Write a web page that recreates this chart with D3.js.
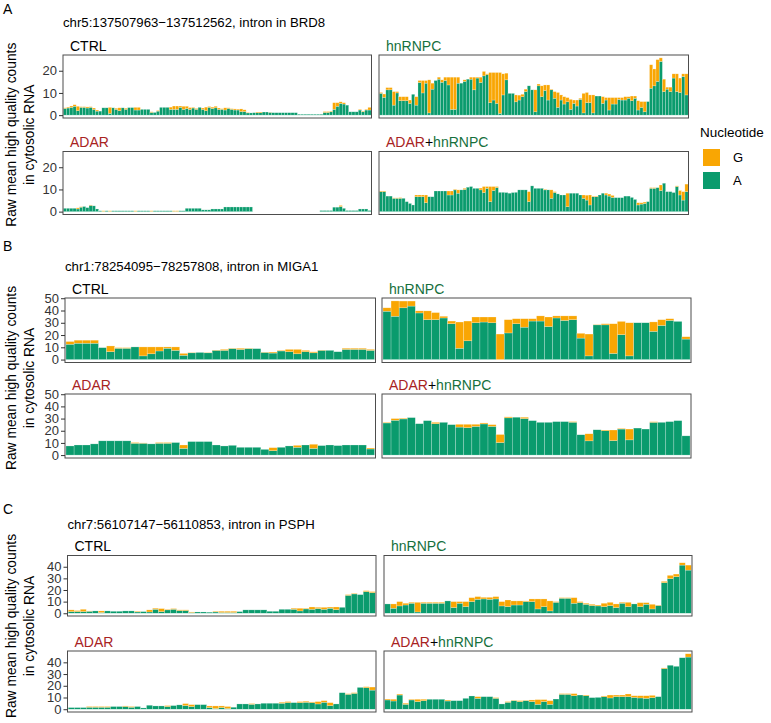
<!DOCTYPE html>
<html><head><meta charset="utf-8">
<script src="https://cdn.jsdelivr.net/npm/d3@7"></script>
<style>body{margin:0;background:#fff} text{font-family:"Liberation Sans",Arial,sans-serif}</style>
</head><body><svg id="c" width="771" height="723"></svg>
<script>
// ---------------- DATA ----------------
const sectionLetters = ["A", "B", "C"];
const regionTitles = [
  "chr5:137507963\u2212137512562, intron in BRD8",
  "chr1:78254095\u221278257808, intron in MIGA1",
  "chr7:56107147\u221256110853, intron in PSPH"
];
const conditions = ["CTRL", "hnRNPC", "ADAR", "ADAR+hnRNPC"];
const nucleotides = ["G", "A"];
const yTicksA = [0, 10, 20];
const yTicksB = [0, 10, 20, 30, 40, 50];
const yTicksC = [0, 10, 20, 30, 40];
const yTitleLines = ["Raw mean high quality counts", "in cytosolic RNA"];

// Section A (BRD8)
const brd8_CTRL_A = [3.0,3.2,3.5,4.0,2.0,3.5,3.5,3.2,3.5,2.6, 1.8,1.8,3.3,3.3,0.8,3.3,2.6,2.0,3.3,2.6, 3.4,3.4,2.3,2.3,2.6,2.6,2.6,1.2,1.2,1.8, 3.5,3.5,3.5,2.6,2.6,2.6,3.5,2.6,3.0,2.6, 3.2,2.6,3.5,2.6,2.0,3.5,3.0,3.3,2.6,2.6, 2.3,3.0,2.6,2.3,2.3,1.6,1.6,1.0,1.0,1.1, 1.1,1.1,1.4,1.4,1.2,1.1,1.1,1.1,1.1,1.1, 1.1,1.1,1.1,0.4,0.4,0.4,0.4,0.4,0.4,0.4, 0.4,1.2,1.2,1.5,2.6,4.0,5.3,5.0,4.5,1.5, 1.5,1.5,2.3,1.5,2.3,2.3];
const brd8_CTRL_G = [0.3,0.4,0.6,0.7,2.0,0.3,0.3,0.5,0.3,0.6, 0.5,0,0,0,2.7,0,0.5,1.3,0,0.5, 0,0,1.2,1.2,0,0,0,0.3,0,0.3, 0,0,0,1.0,1.5,1.5,0.6,1.4,1.0,0.8, 0.3,0.4,0,0.6,1.6,0.4,0.6,0.7,0.6,0.3, 1.0,0.3,0.3,0.5,0.4,1.2,0.8,0.2,0,0, 0.3,0.3,0,0,0.1,0,0,0,0,0, 0,0,0,0,0,0,0,0,0,0, 0,0.4,0.4,0.3,3.0,1.6,0.7,0.6,0,0, 0,0,0.3,0.3,0.3,1.2];
const brd8_hnRNPC_A = [9.8,8.0,11.4,11.4,4.5,10.0,6.5,6.5,6.5,5.3, 9.4,4.5,14.7,10.0,14.4,1.0,11.7,15.6,16.2,14.8, 15.6,13.6,2.6,2.6,14.4,14.4,15.2,16.2,16.2,11.4, 16.7,14.7,17.7,18.2,5.6,6.8,5.3,0.8,9.1,15.9, 9.8,9.8,6.0,6.8,8.3,10.6,13.2,11.4,1.5,13.2, 8.3,11.1,6.8,11.4,7.6,3.5,6.8,5.0,6.0,2.6, 5.3,4.1,7.1,1.0,5.6,5.6,1.0,8.6,8.6,5.3, 6.8,2.3,5.0,5.0,7.1,6.8,6.8,7.6,6.5,7.6, 2.3,3.5,1.5,6.1,12.1,13.2,15.2,24.2,10.6,11.7, 10.6,16.7,10.6,10.2,17.4,9.1];
const brd8_hnRNPC_G = [0.4,1.5,1.0,1.0,6.1,0.6,1.8,1.8,1.8,1.5, 0,3.8,0.9,5.6,1.2,14.9,2.7,0,0.9,1.1, 1.5,3.5,14.5,14.5,2.7,0,0.7,0,0.9,5.7, 0.4,2.4,2.0,0.4,13.6,12.4,13.9,18.4,9.5,3.0, 0,0,3.1,2.2,1.1,1.1,0,0,9.9,0.8, 4.9,2.5,6.8,0.3,3.0,6.7,2.3,3.3,1.9,4.5, 1.5,2.7,0.5,8.8,4.6,3.5,8.1,0,0,3.0, 1.1,5.6,2.9,2.9,0.8,1.1,1.5,0.7,2.1,1.0, 4.2,2.6,4.6,0,10.6,7.6,9.8,1.6,5.6,0.9, 2.0,1.9,8.0,6.5,1.2,9.5];
const brd8_ADAR_A = [1.5,1.5,1.5,1.5,1.2,2.0,2.3,1.8,2.8,2.6, 1.2,0.4,0.1,0.4,0.1,0.4,0.4,0.4,0.4,0.4, 0.4,0.4,0.1,0.4,0.4,0.4,0.4,0.1,0.4,0.4, 0.4,0.4,0.4,0.4,0.1,0.1,0.4,0.4,1.5,1.5, 1.5,1.5,1.5,0.8,0.8,0.8,1.2,1.2,1.2,1.2, 2.1,2.1,2.1,2.1,2.1,2.1,2.1,2.1,2.1,0, 0,0,0,0,0,0,0,0,0,0, 0,0,0,0,0,0,0,0,0,0, 0.5,0.5,0.5,0.5,2.0,2.0,2.3,1.5,0.5,0.5, 0.5,0.5,1.2,1.2,1.2,0.5];
const brd8_ADAR_G = [0,0,0,0,0.5,0.2,0,0,0.2,0, 0,0,0.3,0,0.3,0,0,0,0,0, 0,0,0.3,0,0,0,0,0.3,0,0, 0,0,0,0,0.3,0.3,0,0,0,0, 0,0,0,0,0,0,0,0,0,0, 0,0,0,0,0,0,0,0,0,0, 0,0,0,0,0,0,0,0,0,0, 0,0,0,0,0,0,0,0,0,0, 0,0,0,0,0,0,0.5,0,0,0, 0,0,0,0,0,0];
const brd8_ADARhnRNPC_A = [9.0,9.0,7.0,7.0,6.0,6.0,6.0,6.0,4.5,3.7, 3.0,6.7,6.7,6.7,4.0,6.7,6.7,9.3,9.3,9.3, 9.3,7.5,7.5,9.8,8.3,9.8,10.0,11.0,11.3,10.5, 10.5,9.8,8.6,10.5,4.5,9.5,10.8,8.7,8.7,8.6, 8.3,8.6,8.7,9.8,9.8,9.8,4.5,11.6,10.5,10.5, 10.5,9.8,9.8,6.0,8.6,8.0,7.5,7.5,2.2,8.3, 8.3,8.3,7.5,6.0,5.2,3.0,6.7,6.7,7.5,8.3, 7.5,7.0,6.4,6.3,6.3,6.3,7.0,7.0,6.4,5.5, 3.0,3.4,3.7,4.5,10.5,10.5,10.8,9.5,12.8,9.0, 9.0,8.6,11.3,7.5,5.2,9.0];
const brd8_ADARhnRNPC_G = [0.3,0.3,0,0,0.2,0.2,0.3,0,0,0, 0,0.8,0.8,0.8,3.5,0,0,0,0,0, 0,1.8,1.8,0.3,1.5,0,0.5,0,0,0, 0,0.8,2.7,0.8,6.8,1.8,0.5,0,0,0, 0,0,0,0,0,0,4.5,0,0,0, 0,0.3,0,3.8,0.4,0,0,0,6.1,0, 0,0,0,1.5,2.2,4.5,0.3,0.3,0,0, 0.8,0.9,0.9,0,0,0,0,0,0,0, 1.0,0.6,0.6,0,0.3,0.3,0,2.5,0,0, 0,0,0.3,2.0,3.8,3.4];

// Section B (MIGA1)
const miga1_CTRL_A = [12.5,13.3,13.3,13.3,9.7,6.4,9.2,9.2,10.3,3.0, 4.7,7.0,9.2,7.5,3.5,5.5,5.8,5.5,7.5,7.5, 8.9,8.3,8.9,8.9,5.8,5.3,7.0,6.4,4.7,6.4, 5.5,7.5,7.5,6.4,8.3,8.3,8.3,7.5];
const miga1_CTRL_G = [2.2,2.5,2.5,2.5,0,4.7,0.5,0.5,0,7.3, 5.6,3.3,1.1,2.8,1.5,0.3,0,0.3,0.3,0.8, 0.3,0.9,0.3,0,0.3,0.8,0.5,1.9,3.6,1.1, 0.8,0.3,0,0,0.9,0.9,0.9,0.8];
const miga1_hnRNPC_A = [39.4,35.3,42.2,43.6,38.0,32.5,32.5,33.9,29.2,9.2, 15.3,30.0,30.6,30.0,0,21.7,29.2,26.4,31.4,31.4, 26.9,33.9,31.9,32.5,17.5,3.0,28.3,28.3,5.0,20.3, 3.0,30.0,30.0,23.0,27.8,31.9,31.1,16.7];
const miga1_hnRNPC_G = [2.8,12.5,5.5,4.1,1.7,7.2,5.8,1.4,2.2,21.4, 16.1,4.7,4.1,4.7,20.8,10.8,4.1,6.9,1.9,4.2, 7.8,1.7,3.7,3.1,3.9,17.8,0.3,0.9,24.2,10.8, 27.0,0,0,7.7,4.7,1.4,0,1.9];
const miga1_ADAR_A = [7.5,8.3,8.3,9.2,11.7,11.7,11.7,11.7,9.7,9.7, 9.2,9.7,9.7,10.3,5.5,11.1,11.1,11.1,8.3,7.5, 8.0,6.4,6.4,6.4,4.7,3.6,6.4,7.5,6.4,8.3, 5.5,7.8,8.3,7.8,8.3,8.3,8.3,5.0];
const miga1_ADAR_G = [0,0,0,0,0,0,0,0,0.6,0.3, 0,0.6,0.6,0,2.8,0,0,0,0,0, 0,0,0,0,0,2.5,0,0,1.6,0, 3.4,0,0,0,0,0,0,0.8];
const miga1_ADARhnRNPC_A = [26.4,28.6,29.7,30.8,25.8,28.3,25.8,26.9,25.0,23.0, 22.5,23.6,25.6,23.6,10.3,30.6,31.1,30.0,28.3,26.9, 26.9,27.5,27.5,27.0,16.7,11.7,20.8,20.0,11.9,21.4, 12.5,22.2,21.4,26.9,26.9,27.5,28.3,15.8];
const miga1_ADARhnRNPC_G = [0.5,1.4,0.6,0,0,0,1.1,0,0,2.3, 2.8,1.7,0.8,1.4,6.6,0.8,0,1.1,0,0, 0,0,0,0.5,0,5.8,0,0.6,8.7,0.5, 8.9,0,0,0.5,0,0,0,0];

// Section C (PSPH)
const psph_CTRL_A = [1.4,1.4,1.4,1.7,2.0,0.6,2.0,1.7,1.7,2.0, 2.0,1.1,1.4,1.1,3.4,1.4,2.9,3.4,2.3,2.3, 0.6,1.1,1.1,0.9,1.1,0.6,0.6,0.6,1.4,2.9, 2.9,2.9,2.9,1.7,1.7,3.4,3.4,3.4,2.0,3.7, 3.4,4.0,3.4,4.3,3.1,5.1,15.4,16.6,16.0,18.6, 17.7];
const psph_CTRL_G = [1.5,0.9,2.0,0.3,0,1.4,0,0,0,0, 0,0.6,0,1.8,0.9,2.6,0.5,0.6,0.6,0.6, 0.5,0,0,0,0.6,1.1,1.1,1.1,0,0, 0,0,0,0,0,0,0,0.9,2.3,0.6, 2.0,1.1,1.7,1.0,2.3,0,0.6,0.5,0,0.8, 0.9];
const psph_hnRNPC_A = [8.0,4.3,6.3,7.1,8.6,1.1,8.6,8.6,8.6,8.6, 10.6,4.9,8.6,5.7,10.0,12.0,12.3,12.0,12.3,6.3, 5.7,7.1,7.1,10.0,10.0,3.7,5.7,2.0,9.4,12.9, 12.9,8.6,9.1,7.7,6.6,6.3,5.7,6.6,4.9,8.6, 5.7,8.0,5.7,7.7,3.7,6.6,26.3,29.7,31.4,41.4, 37.1];
const psph_hnRNPC_G = [0,3.7,3.7,1.5,0.8,8.3,0.8,0.8,0.8,0.8, 0,5.1,1.4,4.3,3.4,2.3,1.4,1.7,2.0,3.7, 5.7,3.5,3.5,0.6,2.3,8.6,6.6,8.6,0.6,0.5, 0.5,4.8,0.9,0.9,1.1,0.8,2.9,2.8,3.1,0.8, 3.7,0,3.4,1.4,4.0,0.4,1.1,2.9,2.3,2.0, 4.3];
const psph_ADAR_A = [1.4,1.4,1.4,1.7,1.7,1.7,1.7,2.3,2.3,2.3, 1.7,2.3,1.1,3.4,2.8,2.8,2.3,3.1,3.7,3.1, 2.3,3.9,3.9,1.4,0.6,1.4,0.6,1.7,4.5,4.5, 4.2,4.5,5.1,5.1,5.1,5.1,5.6,5.6,5.6,5.9, 5.6,4.5,5.9,3.1,4.5,14.1,12.7,13.5,18.6,18.3, 16.3];
const psph_ADAR_G = [0,0,0,0.6,0.6,0.6,0.6,0,0,0.5, 0.6,0,0,0,0,0,0.8,0,0,1.7, 1.6,0,0,1.4,2.2,1.4,1.7,0,0,0, 0.6,0,0,0,0,0.8,0.9,0,0.9,0.9, 0.6,2.0,1.4,2.5,0,0,0.5,0.6,0,0.9, 2.6];
const psph_ADARhnRNPC_A = [7.9,7.0,12.1,4.2,7.9,6.5,7.3,8.5,8.5,8.5, 7.0,7.3,7.3,9.3,11.3,9.3,10.7,10.7,9.3,4.5, 5.9,7.3,6.5,7.3,6.5,4.2,6.5,4.2,8.7,12.7, 12.7,11.5,12.1,11.5,9.9,10.1,10.7,9.6,10.7,10.7, 10.7,10.1,9.6,9.3,9.9,10.7,34.6,37.5,36.6,43.9, 44.5];
const psph_ADARhnRNPC_G = [0.8,1.5,0.8,0.9,0.6,2.0,1.2,0,0,0, 0.8,0,0,0,0,1.4,0,0,0.6,0, 0.6,0.3,0.8,0.3,1.4,4.0,1.7,3.1,0,0.6, 0.6,1.8,0,0.6,0,0,0.6,2.5,1.4,1.4, 2.3,1.4,1.9,2.2,1.9,0,0.6,0,0,0, 2.8];

// ---------------- CHART ----------------
const greenCol = "#0A9B6D", orangeCol = "#F9A603";
const nucColors = {G: orangeCol, A: greenCol};
const condColors = {CTRL: "#000000", hnRNPC: "#16703C", ADAR: "#A8231F"};

const sections = [
  {letter: sectionLetters[0], title: regionTitles[0], ticks: yTicksA,
   panels: [[brd8_CTRL_A, brd8_CTRL_G],[brd8_hnRNPC_A, brd8_hnRNPC_G],[brd8_ADAR_A, brd8_ADAR_G],[brd8_ADARhnRNPC_A, brd8_ADARhnRNPC_G]],
   lay: {letterY: 14, titleY: 27, rows: [[55, 118], [151.5, 214.5]], cols: [[63, 371.5], [379, 688.5]]}},
  {letter: sectionLetters[1], title: regionTitles[1], ticks: yTicksB,
   panels: [[miga1_CTRL_A, miga1_CTRL_G],[miga1_hnRNPC_A, miga1_hnRNPC_G],[miga1_ADAR_A, miga1_ADAR_G],[miga1_ADARhnRNPC_A, miga1_ADARhnRNPC_G]],
   lay: {letterY: 251, titleY: 271, rows: [[298, 362.5], [394, 458]], cols: [[65, 375.5], [382, 691]]}},
  {letter: sectionLetters[2], title: regionTitles[2], ticks: yTicksC,
   panels: [[psph_CTRL_A, psph_CTRL_G],[psph_hnRNPC_A, psph_hnRNPC_G],[psph_ADAR_A, psph_ADAR_G],[psph_ADARhnRNPC_A, psph_ADARhnRNPC_G]],
   lay: {letterY: 514, titleY: 529, rows: [[555.5, 616], [651, 712]], cols: [[67.5, 376], [384, 692]]}}
];

const svg = d3.select("#c");
svg.append("rect").attr("width", 771).attr("height", 723).attr("fill", "#fff");

sections.forEach(sec => {
  const L = sec.lay;
  svg.append("text").attr("x", 3).attr("y", L.letterY).attr("font-size", 14).text(sec.letter);
  svg.append("text").attr("x", L.cols[0][0]).attr("y", L.titleY).attr("font-size", 13.2).text(sec.title);

  // shared y extent (ggplot default 5% expansion)
  const allTotals = sec.panels.flatMap(p => p[0].map((a, i) => a + p[1][i]));
  const M = d3.max(allTotals);
  const yDomain = [-0.05 * M, 1.05 * M];

  // y-axis title
  const yc = Math.min((L.rows[0][0] + L.rows[1][1]) / 2, 626);
  yTitleLines.forEach((t, k) => {
    svg.append("text").attr("transform", `translate(${16 + k * 18},${yc}) rotate(-90)`)
      .attr("text-anchor", "middle").attr("font-size", 13.8).text(t);
  });

  sec.panels.forEach((p, pi) => {
    const r = Math.floor(pi / 2), c = pi % 2;
    const [x0, x1] = L.cols[c], [y0, y1] = L.rows[r];
    const n = p[0].length;
    const x = d3.scaleBand().domain(d3.range(n)).range([x0, x1]).paddingInner(0).paddingOuter(0.12);
    const y = d3.scaleLinear().domain(yDomain).range([y1, y0]);
    const g = svg.append("g");
    const rows = d3.range(n).map(i => ({i, A: p[0][i], G: p[1][i]}));
    const stack = d3.stack().keys(["A", "G"])(rows);
    stack.forEach(layer => {
      g.append("g").selectAll("rect").data(layer).join("rect")
        .attr("x", d => x(d.data.i)).attr("width", x.bandwidth())
        .attr("y", d => y(d[1])).attr("height", d => Math.max(0, y(d[0]) - y(d[1])))
        .attr("fill", nucColors[layer.key])
        .attr("stroke", "rgba(255,255,255,0.45)").attr("stroke-width", 0.5);
    });
    // panel border
    svg.append("rect").attr("x", x0).attr("y", y0).attr("width", x1 - x0).attr("height", y1 - y0)
      .attr("fill", "none").attr("stroke", "#4d4d4d").attr("stroke-width", 1);
    // y axis on left column
    if (c === 0) {
      const ax = svg.append("g").attr("transform", `translate(${x0},0)`)
        .call(d3.axisLeft(y).tickValues(sec.ticks).tickSize(4).tickPadding(2).tickFormat(d3.format("d")));
      ax.select(".domain").remove();
      ax.selectAll("line").attr("stroke", "#333");
      ax.selectAll("text").attr("font-size", 13).attr("fill", "#333").attr("font-family", "Liberation Sans, Arial, sans-serif");
    }
    // strip label
    const cond = conditions[pi];
    const st = svg.append("text").attr("x", x0 + 7).attr("y", y0 - 4.5).attr("font-size", 14);
    if (cond === "ADAR+hnRNPC") {
      st.append("tspan").attr("fill", condColors.ADAR).text("ADAR");
      st.append("tspan").attr("fill", "#000").text("+");
      st.append("tspan").attr("fill", condColors.hnRNPC).text("hnRNPC");
    } else {
      st.attr("fill", condColors[cond]).text(cond);
    }
  });
});

// legend
const leg = svg.append("g");
leg.append("text").attr("x", 700).attr("y", 137).attr("font-size", 13.5).text("Nucleotide");
nucleotides.forEach((nuc, k) => {
  const yy = 149 + k * 23;
  leg.append("rect").attr("x", 703).attr("y", yy).attr("width", 17).attr("height", 17).attr("fill", nucColors[nuc]);
  leg.append("text").attr("x", 733).attr("y", yy + 13).attr("font-size", 13).text(nuc);
});
</script></body></html>
